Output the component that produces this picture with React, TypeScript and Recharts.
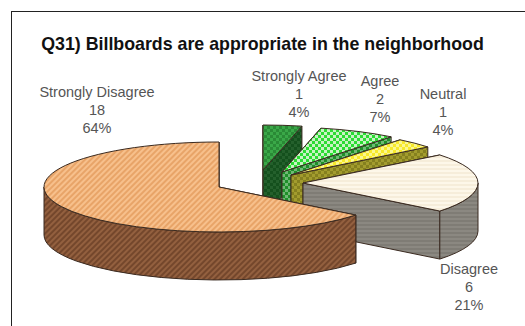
import { PieChart, Pie } from "recharts";

const categories = ["Strongly Agree", "Agree", "Neutral", "Disagree", "Strongly Disagree"];
const counts = [1, 2, 1, 6, 18];
const percents = ["4%", "7%", "4%", "21%", "64%"];

const chartData = categories.map((name, i) => ({ name, value: counts[i], pct: percents[i] }));

// how far each slice is pulled out of the pie, and where its label sits
const explodeX = [44, 63, 72, 84, 0];
const explodeY = [-17, -15, -12, -4, 0];
const labelX = [299, 380, 443, 469, 97];
const labelY = [76, 81, 94, 269, 92];

const TILT = 45 / 175;
const DEPTH = 48;
const OUTLINE = "#3a2a20";

function pt(cx: number, cy: number, r: number, deg: number) {
  const a = (deg * Math.PI) / 180;
  return { x: cx + r * Math.cos(a), y: cy - r * TILT * Math.sin(a) };
}

function Slice3D(props: any) {
  const { cx, cy, outerRadius: r, startAngle, endAngle, index } = props;
  const x0 = cx + explodeX[index];
  const y0 = cy + explodeY[index];
  const ry = r * TILT;
  const s = pt(x0, y0, r, startAngle);
  const e = pt(x0, y0, r, endAngle);
  const big = Math.abs(startAngle - endAngle) > 180 ? 1 : 0;

  const wall = (p: { x: number; y: number }) =>
    `M${x0},${y0} L${p.x},${p.y} L${p.x},${p.y + DEPTH} L${x0},${y0 + DEPTH} Z`;

  // only the part of the rim facing the viewer gets an outer wall
  const frontFrom = Math.min(startAngle, 0);
  const frontTo = Math.max(endAngle, -180);
  let rim = "";
  if (frontFrom > frontTo) {
    const a = pt(x0, y0, r, frontFrom);
    const b = pt(x0, y0, r, frontTo);
    rim =
      `M${a.x},${a.y} A${r},${ry} 0 0 1 ${b.x},${b.y} ` +
      `L${b.x},${b.y + DEPTH} A${r},${ry} 0 0 0 ${a.x},${a.y + DEPTH} Z`;
  }

  const side = `url(#side${index})`;
  const top = `url(#top${index})`;
  return (
    <g>
      <path d={wall(s)} fill={side} stroke={OUTLINE} strokeWidth={1} />
      <path d={wall(e)} fill={side} stroke={OUTLINE} strokeWidth={1} />
      {rim && <path d={rim} fill={side} stroke={OUTLINE} strokeWidth={1} />}
      <path
        d={`M${x0},${y0} L${s.x},${s.y} A${r},${ry} 0 ${big} 1 ${e.x},${e.y} Z`}
        fill={top}
        stroke={OUTLINE}
        strokeWidth={1}
      />
    </g>
  );
}

function SliceLabel(props: any) {
  const { index, name, value, pct } = props;
  const lines = [name, value, pct];
  return (
    <text
      x={labelX[index]}
      textAnchor="middle"
      fontFamily="Liberation Sans"
      fontSize={14.5}
      fill="#555"
    >
      {lines.map((t, i) => (
        <tspan key={i} x={labelX[index]} y={labelY[index] + 5 + i * 18}>
          {t}
        </tspan>
      ))}
    </text>
  );
}

function Checker({ id, a, b }: { id: string; a: string; b: string }) {
  return (
    <pattern id={id} width={6} height={6} patternUnits="userSpaceOnUse">
      <rect width={6} height={6} fill={a} />
      <rect width={3} height={3} fill={b} />
      <rect x={3} y={3} width={3} height={3} fill={b} />
    </pattern>
  );
}

function Stripes({ id, a, b, angle, w = 4 }: { id: string; a: string; b: string; angle: number; w?: number }) {
  return (
    <pattern id={id} width={w} height={w} patternUnits="userSpaceOnUse" patternTransform={`rotate(${angle})`}>
      <rect width={w} height={w} fill={a} />
      <rect width={w} height={w / 2} fill={b} />
    </pattern>
  );
}

export default function App() {
  return (
    <div style={{ position: "absolute", left: 0, top: 0, width: 525, height: 326, background: "#fff", overflow: "hidden" }}>
      <div style={{ position: "absolute", left: 11, top: 11, right: 0, bottom: 0, borderLeft: "1px solid #222", borderTop: "1px solid #222" }} />
      <PieChart width={525} height={326} margin={{ top: 0, right: 0, bottom: 0, left: 0 }} style={{ position: "absolute", left: 0, top: 0 }}>
        <defs>
          <Checker id="top0" a="#2a8a36" b="#3aa848" />
          <Checker id="side0" a="#14501d" b="#24602c" />
          <Checker id="top1" a="#2bdc33" b="#c8f2c4" />
          <Checker id="side1" a="#1f8f2a" b="#6fb875" />
          <Checker id="top2" a="#f7e92a" b="#fbf790" />
          <Checker id="side2" a="#85801f" b="#a39c2e" />
          <Stripes id="top3" a="#fdf7e9" b="#f6edda" angle={0} />
          <Stripes id="side3" a="#8b8881" b="#7f7c75" angle={0} />
          <Stripes id="top4" a="#f7c08c" b="#e8a468" angle={-45} />
          <Stripes id="side4" a="#93603f" b="#74472c" angle={-45} />
        </defs>
        <text
          x={262.5}
          y={50}
          textAnchor="middle"
          fontFamily="Liberation Sans"
          fontWeight="bold"
          fontSize={17.8}
          fill="#111"
        >
          Q31) Billboards are appropriate in the neighborhood
        </text>
        <Pie
          data={chartData}
          dataKey="value"
          nameKey="name"
          cx={219}
          cy={187}
          innerRadius={0}
          outerRadius={175}
          startAngle={90}
          endAngle={-270}
          paddingAngle={0}
          shape={Slice3D}
          label={SliceLabel}
          labelLine={false}
          isAnimationActive={false}
        />
      </PieChart>
    </div>
  );
}
